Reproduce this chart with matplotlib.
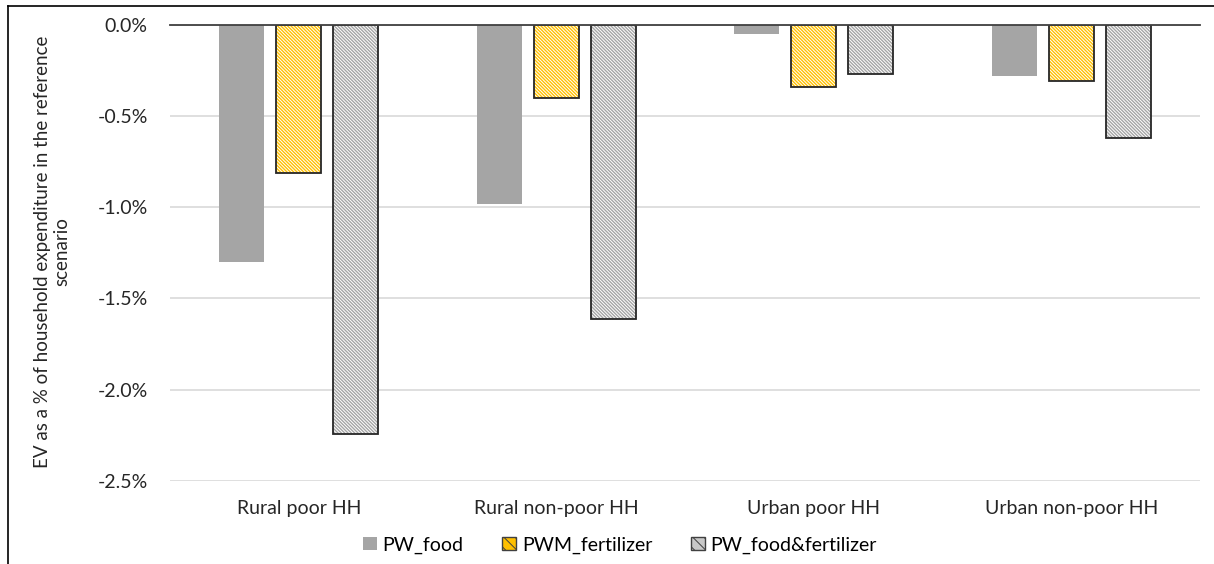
import numpy as np
import matplotlib.pyplot as plt
from matplotlib.lines import Line2D
from matplotlib.patches import Patch

plt.rcParams['font.family'] = ['Lato', 'DejaVu Sans']
plt.rcParams['hatch.linewidth'] = 0.7

# EV as % of household expenditure
groups = ['Rural poor HH', 'Rural non-poor HH', 'Urban poor HH', 'Urban non-poor HH']
pw_food = [-1.30, -0.98, -0.05, -0.28]
pwm_fertilizer = [-0.81, -0.40, -0.34, -0.31]
pw_food_fertilizer = [-2.24, -1.61, -0.27, -0.62]
yticks = [0.0, -0.5, -1.0, -1.5, -2.0, -2.5]

W, H = 1214, 564
fig = plt.figure(figsize=(W / 100, H / 100), dpi=100)
ax = fig.add_axes([170 / W, 1 - 481 / H, 1030 / W, (481 - 24.7) / H])

x = np.arange(len(groups))
bw = 0.175
step = 0.222
fine = '\\' * 10

ax.bar(x - step, pw_food, bw, color='#A5A5A5', zorder=3)

# hatched bars: white hatch over the fill, then a dark outline on top
ax.bar(x, pwm_fertilizer, bw, color='#FFC000', edgecolor='white',
       hatch=fine, linewidth=0, zorder=3)
ax.bar(x, pwm_fertilizer, bw, fill=False, edgecolor='#262626',
       linewidth=1.3, zorder=4)
ax.bar(x + step, pw_food_fertilizer, bw, color='#A5A5A5', edgecolor='white',
       hatch=fine, linewidth=0, zorder=3)
ax.bar(x + step, pw_food_fertilizer, bw, fill=False, edgecolor='#262626',
       linewidth=1.3, zorder=4)

ax.set_xlim(-0.5, len(groups) - 0.5)
ax.set_ylim(-2.5, 0)
ax.set_yticks(yticks)
ax.set_yticklabels([f'{v:.1f}%' for v in yticks], fontsize=14, color='#262626')
ax.set_xticks(x)
ax.set_xticklabels(groups, fontsize=14, color='#262626')
ax.tick_params(length=0)
ax.tick_params(axis='y', pad=16)
ax.tick_params(axis='x', pad=14)
ax.grid(axis='y', color='#D9D9D9', linewidth=1.2, zorder=0)
for s in ['left', 'right', 'bottom']:
    ax.spines[s].set_visible(False)
ax.spines['top'].set_color('#404040')
ax.spines['top'].set_linewidth(1.3)
ax.spines['top'].set_zorder(5)

fig.text(52 / W, 1 - 252 / H,
         'EV as a % of household expenditure in the reference\nscenario',
         rotation=90, ha='center', va='center', fontsize=13.5,
         color='#262626', linespacing=1.2, multialignment='center')

handles = [
    Patch(facecolor='#A5A5A5', edgecolor='none', label='PW_food'),
    Patch(facecolor='#FFC000', edgecolor='#404040', hatch='\\\\\\',
          label='PWM_fertilizer'),
    Patch(facecolor='#C8C8C8', edgecolor='#404040', hatch='\\\\\\',
          label='PW_food&fertilizer'),
]
fig.legend(handles=handles, loc='center', bbox_to_anchor=(620 / W, 1 - 545 / H),
           ncol=3, frameon=False, fontsize=14, handlelength=0.7,
           handleheight=0.7, handletextpad=0.3, columnspacing=2.0)

# outer border on the top and left edges
fig.add_artist(Line2D([8 / W, 1], [1 - 6 / H, 1 - 6 / H], color='black', linewidth=1.2))
fig.add_artist(Line2D([8 / W, 8 / W], [0, 1 - 6 / H], color='black', linewidth=1.2))

fig.savefig('out.png', dpi=100)
